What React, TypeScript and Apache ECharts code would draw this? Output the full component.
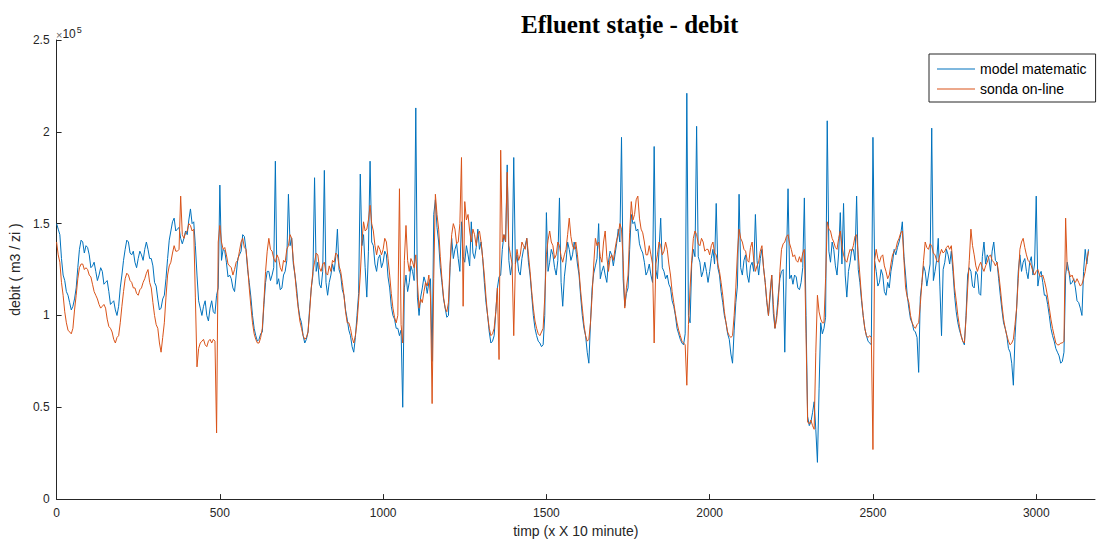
import React, { useEffect, useRef } from "react";
import * as echarts from "echarts";

// Sampling step of the read-off values (units of the x axis: "x 10 minute")
const STEP = 5;

// Values in thousands of m3/zi (the axis shows them as x10^5), one row per 100 time units
const modelMatematic: number[] = [
  150, 147, 144, 131, 122, 119, 113, 111, 107, 103, 105, 109, 115, 126, 136, 141, 140, 134, 138, 137,
  133, 126, 127, 129, 124, 119, 122, 126, 124, 117, 118, 119, 113, 106, 107, 108, 103, 100, 105, 115,
  122, 130, 136, 141, 140, 134, 133, 135, 129, 126, 131, 135, 133, 130, 136, 140, 136, 131, 131, 127,
  118, 116, 109, 103, 104, 109, 111, 120, 131, 141, 146, 151, 153, 146, 147, 148, 142, 139, 142, 146,
  144, 152, 158, 150, 151, 138, 122, 108, 104, 100, 105, 108, 100, 97, 104, 108, 102, 101, 111, 115,
  171, 130, 136, 135, 129, 121, 122, 120, 115, 113, 122, 131, 133, 135, 144, 143, 136, 125, 118, 110,
  100, 93, 89, 86, 87, 90, 91, 106, 118, 124, 124, 119, 122, 126, 184, 117, 120, 114, 115, 122,
  124, 130, 166, 138, 142, 128, 122, 115, 105, 99, 96, 89, 85, 87, 91, 104, 115, 122, 175, 124,
  129, 117, 115, 124, 179, 118, 111, 118, 122, 128, 124, 132, 147, 125, 122, 114, 111, 103, 98, 92,
  89, 83, 80, 88, 100, 112, 177, 138, 144, 126, 110, 135, 184, 140, 138, 128, 124, 131, 133, 126,
  129, 135, 133, 121, 115, 105, 100, 98, 93, 93, 89, 92, 50, 115, 122, 113, 118, 127, 124, 119,
  213, 110, 100, 110, 115, 121, 118, 112, 118, 120, 75, 155, 163, 148, 140, 126, 118, 109, 104, 99,
  100, 126, 142, 131, 136, 139, 131, 124, 151, 132, 129, 138, 133, 127, 151, 134, 131, 137, 147, 136,
  140, 131, 118, 107, 100, 91, 85, 86, 89, 102, 115, 121, 122, 136, 144, 140, 182, 130, 122, 128,
  186, 128, 133, 124, 122, 131, 136, 138, 142, 129, 122, 111, 100, 93, 89, 86, 85, 83, 84, 100,
  156, 124, 129, 136, 133, 126, 122, 130, 164, 118, 105, 121, 129, 140, 136, 130, 133, 140, 136, 128,
  122, 110, 100, 93, 89, 80, 74, 96, 115, 123, 127, 131, 150, 120, 124, 127, 122, 118, 129, 135,
  133, 127, 133, 139, 147, 140, 197, 120, 105, 112, 115, 136, 155, 150, 151, 146, 147, 139, 136, 134,
  129, 122, 124, 128, 122, 118, 192, 125, 120, 136, 153, 126, 124, 120, 122, 117, 115, 108, 105, 100,
  93, 90, 87, 85, 84, 90, 221, 100, 96, 128, 136, 132, 203, 132, 129, 121, 124, 129, 124, 118,
  124, 131, 136, 128, 161, 126, 122, 113, 107, 100, 96, 90, 87, 79, 74, 92, 107, 116, 166, 126,
  122, 130, 133, 122, 118, 127, 129, 124, 155, 130, 122, 131, 136, 126, 118, 107, 100, 110, 122, 101,
  93, 100, 111, 120, 124, 125, 80, 128, 169, 120, 122, 117, 122, 121, 115, 114, 118, 126, 164, 100,
  45, 40, 42, 47, 53, 38, 20, 60, 96, 90, 93, 99, 206, 135, 129, 140, 136, 127,
  122, 134, 156, 128, 161, 122, 110, 124, 129, 136, 136, 130, 165, 125, 118, 108, 100, 93, 89, 86,
  85, 84, 197, 130, 124, 116, 118, 125, 122, 113, 111, 118, 115, 124, 129, 136, 133, 137, 140, 144,
  151, 132, 122, 111, 104, 98, 96, 92, 91, 88, 69, 110, 118, 127, 124, 116, 122, 128, 202, 119,
  124, 130, 142, 116, 89, 125, 129, 136, 133, 128, 135, 124, 111, 102, 96, 92, 89, 86, 84, 100,
  122, 126, 124, 116, 115, 124, 122, 112, 111, 132, 140, 128, 133, 131, 124, 135, 140, 130, 129, 120,
  111, 103, 96, 93, 89, 82, 80, 74, 62, 88, 104, 124, 133, 124, 129, 131, 124, 120, 129, 132,
  122, 128, 165, 116, 122, 124, 118, 111, 111, 106, 100, 93, 89, 86, 82, 80, 78, 74, 75, 80,
  122, 129, 124, 117, 118, 120, 115, 108, 107, 104, 100, 124, 136, 128, 136,
];

const sondaOnLine: number[] = [
  140, 133, 129, 118, 111, 102, 96, 92, 91, 90, 93, 103, 111, 120, 126, 128, 128, 125, 126, 125,
  122, 121, 117, 113, 111, 109, 106, 104, 105, 106, 104, 98, 94, 93, 91, 87, 85, 88, 89, 96,
  105, 113, 120, 123, 122, 119, 118, 115, 115, 112, 111, 114, 115, 118, 120, 123, 125, 118, 115, 107,
  100, 95, 93, 85, 80, 88, 96, 110, 122, 127, 129, 134, 138, 135, 135, 136, 165, 144, 142, 145,
  146, 150, 149, 146, 147, 110, 72, 82, 85, 86, 87, 84, 83, 86, 87, 85, 87, 86, 36, 140,
  149, 140, 136, 137, 133, 128, 127, 126, 122, 125, 129, 130, 135, 140, 142, 137, 136, 127, 115, 105,
  96, 90, 87, 85, 85, 88, 93, 108, 124, 135, 142, 136, 135, 131, 129, 133, 131, 126, 124, 130,
  129, 136, 138, 144, 142, 130, 122, 112, 104, 97, 93, 89, 87, 88, 91, 102, 115, 124, 129, 134,
  133, 126, 124, 128, 129, 123, 122, 127, 124, 130, 129, 134, 133, 127, 124, 118, 111, 102, 96, 96,
  93, 88, 85, 89, 96, 108, 122, 140, 151, 146, 147, 152, 160, 150, 146, 138, 133, 138, 136, 133,
  136, 142, 140, 131, 122, 112, 104, 99, 96, 100, 169, 95, 85, 130, 149, 130, 124, 131, 129, 126,
  133, 118, 104, 109, 107, 113, 118, 116, 122, 110, 52, 120, 166, 155, 147, 132, 120, 110, 104, 102,
  107, 128, 144, 150, 147, 139, 140, 150, 186, 105, 162, 152, 155, 146, 140, 147, 144, 138, 144, 146,
  140, 131, 122, 110, 100, 93, 89, 90, 93, 102, 115, 76, 190, 140, 144, 140, 178, 138, 133, 128,
  89, 128, 136, 130, 133, 140, 138, 136, 142, 133, 124, 113, 104, 97, 93, 90, 89, 91, 93, 110,
  133, 141, 146, 140, 138, 131, 133, 140, 138, 132, 129, 133, 136, 144, 153, 143, 138, 136, 140, 133,
  124, 113, 104, 95, 89, 86, 87, 96, 111, 128, 142, 138, 140, 132, 129, 140, 146, 132, 124, 131,
  133, 130, 136, 141, 144, 150, 147, 130, 104, 115, 122, 145, 162, 152, 155, 163, 165, 153, 147, 145,
  140, 133, 133, 138, 133, 128, 85, 128, 133, 140, 138, 133, 135, 140, 136, 128, 122, 113, 107, 101,
  96, 92, 89, 86, 85, 84, 62, 95, 115, 130, 142, 146, 144, 139, 138, 142, 140, 135, 136, 136,
  133, 138, 140, 134, 133, 128, 124, 118, 111, 102, 96, 91, 89, 88, 89, 100, 115, 134, 147, 142,
  140, 136, 135, 130, 129, 137, 140, 130, 124, 127, 129, 135, 138, 126, 118, 108, 100, 113, 122, 106,
  93, 98, 107, 124, 136, 139, 140, 143, 144, 139, 136, 132, 133, 130, 129, 132, 129, 134, 136, 90,
  42, 41, 43, 40, 38, 80, 111, 102, 98, 96, 96, 120, 151, 147, 146, 142, 140, 137,
  136, 142, 146, 138, 133, 130, 129, 133, 136, 135, 138, 143, 144, 133, 122, 110, 100, 93, 89, 88,
  89, 88, 27, 130, 136, 131, 129, 132, 133, 127, 124, 120, 122, 128, 133, 135, 136, 140, 142, 145,
  146, 130, 115, 110, 107, 100, 96, 94, 93, 95, 96, 106, 118, 130, 140, 137, 136, 139, 138, 134,
  133, 130, 129, 133, 136, 134, 135, 137, 138, 136, 138, 128, 115, 108, 100, 94, 89, 86, 85, 98,
  115, 130, 147, 138, 133, 127, 124, 127, 129, 126, 124, 127, 129, 132, 133, 130, 129, 127, 129, 123,
  115, 106, 98, 93, 89, 86, 84, 85, 87, 95, 104, 120, 136, 140, 142, 137, 133, 130, 129, 127,
  124, 122, 124, 125, 122, 121, 122, 119, 115, 110, 104, 98, 93, 89, 85, 84, 84, 85, 85, 86,
  153, 125, 124, 121, 122, 119, 118, 120, 118, 116, 117, 120, 124, 130, 135,
];

const xTicks: number[] = [0, 500, 1000, 1500, 2000, 2500, 3000];
const yTicks: number[] = [0, 50, 100, 150, 200, 250];
const yTickLabels: string[] = ["0", "0.5", "1", "1.5", "2", "2.5"];

const seriesNames: string[] = ["model matematic", "sonda on-line"];
const seriesColors: string[] = ["#0072BD", "#D95319"];

export default function App() {
  const ref = useRef<HTMLDivElement>(null);

  useEffect(() => {
    if (!ref.current) return;
    const chart = echarts.init(ref.current, undefined, { renderer: "svg" });

    const toPairs = (vals: number[]) => vals.map((v, i) => [i * STEP, v]);

    const axisColor = "#262626";
    const font = "Liberation Sans";

    chart.setOption({
      animation: false,
      backgroundColor: "#ffffff",
      textStyle: { fontFamily: font },
      title: {
        text: "Efluent stație - debit",
        left: 516,
        top: 7,
        textStyle: {
          fontFamily: "Liberation Serif",
          fontWeight: "bold",
          fontSize: 25,
          color: "#000000",
        },
      },
      grid: { left: 54, right: 5, top: 40, bottom: 42 },
      legend: {
        data: seriesNames,
        orient: "vertical",
        left: 929,
        top: 54,
        icon: "rect",
        itemWidth: 38,
        itemHeight: 1,
        itemGap: 4,
        padding: [7, 9, 5, 8],
        borderColor: axisColor,
        borderWidth: 1,
        borderRadius: 0,
        backgroundColor: "#ffffff",
        textStyle: { fontFamily: font, fontSize: 14, color: "#000000", lineHeight: 16 },
      },
      xAxis: {
        type: "value",
        min: 0,
        max: 3180,
        name: "timp (x X 10 minute)",
        nameLocation: "middle",
        nameGap: 20,
        nameTextStyle: { fontFamily: font, fontSize: 14, color: axisColor },
        axisLine: { lineStyle: { color: axisColor, width: 1 } },
        axisTick: { inside: true, length: 5, customValues: xTicks, lineStyle: { color: axisColor } },
        axisLabel: {
          customValues: xTicks,
          color: axisColor,
          fontSize: 12,
          margin: 8,
          fontFamily: font,
          formatter: (v: number) => String(v),
        },
        splitLine: { show: false },
      },
      yAxis: {
        type: "value",
        min: 0,
        max: 250,
        interval: 50,
        name: "debit ( m3 / zi )",
        nameLocation: "middle",
        nameGap: 26,
        nameTextStyle: { fontFamily: font, fontSize: 14, color: axisColor },
        axisLine: { show: true, lineStyle: { color: axisColor, width: 1 } },
        axisTick: { show: true, inside: true, length: 5, lineStyle: { color: axisColor } },
        axisLabel: {
          color: axisColor,
          fontSize: 12,
          margin: 7,
          fontFamily: font,
          formatter: (v: number) => {
            const i = yTicks.indexOf(v);
            return i >= 0 ? yTickLabels[i] : "";
          },
        },
        splitLine: { show: false },
      },
      graphic: [
        {
          type: "text",
          left: 56,
          top: 25,
          style: {
            text: "{a|×}{b|10}{c|5}",
            rich: {
              a: { fontSize: 11, fill: "#666666", fontFamily: font, verticalAlign: "bottom" },
              b: { fontSize: 12, fill: axisColor, fontFamily: font, verticalAlign: "bottom" },
              c: { fontSize: 9, fill: axisColor, fontFamily: font, verticalAlign: "top", padding: [0, 0, 6, 1] },
            },
          },
        },
      ],
      series: [
        {
          name: seriesNames[0],
          type: "line",
          data: toPairs(modelMatematic),
          symbol: "none",
          showSymbol: false,
          lineStyle: { color: seriesColors[0], width: 1 },
          itemStyle: { color: seriesColors[0] },
          z: 2,
        },
        {
          name: seriesNames[1],
          type: "line",
          data: toPairs(sondaOnLine),
          symbol: "none",
          showSymbol: false,
          lineStyle: { color: seriesColors[1], width: 1 },
          itemStyle: { color: seriesColors[1] },
          z: 3,
        },
      ],
    });

    return () => {
      chart.dispose();
    };
  }, []);

  return (
    <div
      ref={ref}
      style={{ position: "absolute", left: 0, top: 0, width: 1100, height: 543 }}
    />
  );
}
